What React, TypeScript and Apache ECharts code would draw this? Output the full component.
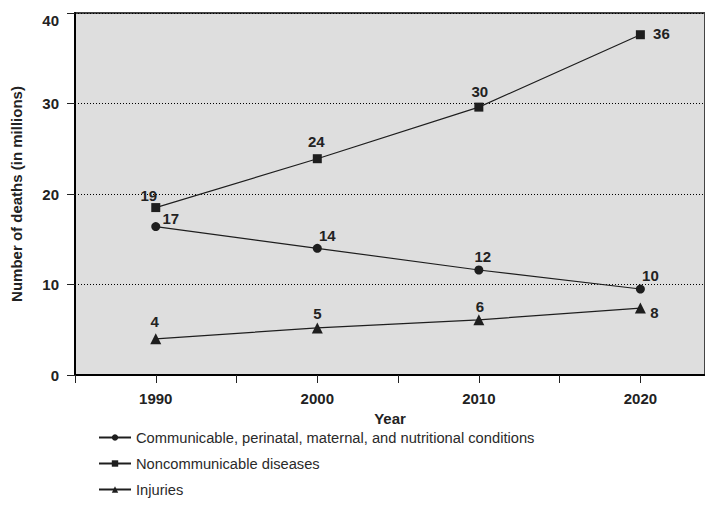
import React, { useEffect, useRef } from "react";
import * as echarts from "echarts";

const years = [1990, 2000, 2010, 2020];
const minorTicks = [1985, 1990, 1995, 2000, 2005, 2010, 2015, 2020];
const yTicks = [0, 10, 20, 30, 40];

const seriesNames = [
  "Communicable, perinatal, maternal, and nutritional conditions",
  "Noncommunicable diseases",
  "Injuries",
];

const communicable = [16.4, 14.0, 11.6, 9.5];
const communicableLabels = ["17", "14", "12", "10"];

const noncommunicable = [18.5, 23.9, 29.6, 37.6];
const noncommunicableLabels = ["19", "24", "30", "36"];

const injuries = [4.0, 5.2, 6.1, 7.4];
const injuriesLabels = ["4", "5", "6", "8"];

// label offsets (layout only)
const commOffsets = [[15, -8], [10, -13], [4, -14], [10, -14]];
const nonOffsets = [[-7, -12], [-1, -17], [1, -16], [21, -1]];
const injOffsets = [[-1, -17], [0, -14], [1, -13], [14, 4]];

const FONT = "'Liberation Sans', Arial, sans-serif";
const INK = "#1e1e1e";

function buildData(values: number[], labels: string[], offsets: number[][]) {
  return values.map((v, i) => ({
    value: [years[i], v],
    label: {
      show: true,
      position: "inside",
      offset: offsets[i],
      formatter: labels[i],
    },
  }));
}

function makeSeries(name: string, symbol: string, size: number, values: number[], labels: string[], offsets: number[][]) {
  return {
    name,
    type: "line",
    symbol,
    symbolSize: size,
    data: buildData(values, labels, offsets),
    lineStyle: { color: INK, width: 1.2 },
    itemStyle: { color: INK },
    label: {
      show: true,
      color: "#222",
      fontSize: 15,
      fontWeight: "bold",
      fontFamily: FONT,
    },
    emphasis: { disabled: true },
  };
}

export default function App() {
  const ref = useRef<HTMLDivElement>(null);
  useEffect(() => {
    if (!ref.current) return;
    const chart = echarts.init(ref.current, undefined, { renderer: "svg" });
    chart.setOption({
      animation: false,
      backgroundColor: "#ffffff",
      grid: {
        left: 75,
        right: 0,
        top: 13,
        bottom: 134,
        show: true,
        backgroundColor: "#dedede",
        borderColor: "#444",
        borderWidth: 2,
      },
      legend: {
        orient: "vertical",
        left: 98,
        top: 430,
        padding: 0,
        itemWidth: 32,
        itemHeight: 8,
        itemGap: 11,
        textStyle: { fontSize: 14.7, color: "#2a2a2a", fontFamily: FONT },
        data: seriesNames,
      },
      xAxis: {
        type: "value",
        min: 1985,
        max: 2024,
        name: "Year",
        nameLocation: "middle",
        nameGap: 31,
        nameTextStyle: { fontSize: 15, fontWeight: "bold", color: "#222", fontFamily: FONT },
        axisLine: { show: true, lineStyle: { color: "#000", width: 2 } },
        axisTick: { show: true, length: 8, customValues: minorTicks, lineStyle: { color: "#222", width: 1 } },
        axisLabel: {
          customValues: years,
          margin: 16,
          fontSize: 15,
          fontWeight: "bold",
          color: "#222",
          fontFamily: FONT,
          formatter: (v: number) => String(v),
        },
        splitLine: { show: false },
      },
      yAxis: {
        type: "value",
        min: 0,
        max: 40,
        interval: 10,
        name: "Number of deaths (in millions)",
        nameLocation: "middle",
        nameGap: 51,
        nameTextStyle: { fontSize: 15, fontWeight: "bold", color: "#222", fontFamily: FONT },
        axisLine: { show: true, lineStyle: { color: "#000", width: 2 } },
        axisTick: { show: true, length: 8, lineStyle: { color: "#222", width: 1 } },
        axisLabel: {
          margin: 16,
          fontSize: 15,
          fontWeight: "bold",
          color: "#222",
          fontFamily: FONT,
          formatter: (v: number) => (v === yTicks[yTicks.length - 1] ? "{top|" + v + "}" : String(v)),
          rich: {
            top: { padding: [14, 0, 0, 0], fontSize: 15, fontWeight: "bold", color: "#222", fontFamily: FONT },
          },
        },
        splitLine: { show: true, lineStyle: { color: "#000", width: 1, type: [1, 2] } },
      },
      series: [
        makeSeries(seriesNames[0], "circle", 9, communicable, communicableLabels, commOffsets),
        makeSeries(seriesNames[1], "rect", 9, noncommunicable, noncommunicableLabels, nonOffsets),
        makeSeries(seriesNames[2], "triangle", 11, injuries, injuriesLabels, injOffsets),
      ],
    });
    return () => chart.dispose();
  }, []);
  return <div ref={ref} style={{ position: "absolute", left: 0, top: 0, width: 705, height: 509 }} />;
}
